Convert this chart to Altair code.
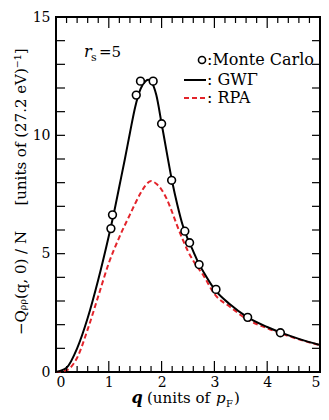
import altair as alt
import pandas as pd

# ---- data ----
q_gw = [0, 0.2, 0.4, 0.6, 0.8, 1.0, 1.1, 1.2, 1.3, 1.4, 1.5, 1.6, 1.7, 1.75, 1.8, 1.9, 2.0, 2.1, 2.2, 2.3, 2.4, 2.5, 2.6, 2.7, 2.8, 3.0, 3.3, 3.6, 4.0, 4.3, 4.6, 5.0]
y_gw = [0, 0.18, 1.0, 2.28, 3.9, 5.75, 6.75, 7.85, 8.95, 10.1, 11.2, 11.95, 12.3, 12.35, 12.28, 11.7, 10.5, 9.25, 8.05, 7.05, 6.2, 5.6, 5.1, 4.6, 4.2, 3.5, 2.85, 2.35, 1.9, 1.63, 1.4, 1.14]

q_rpa = [0, 0.2, 0.4, 0.6, 0.8, 1.0, 1.2, 1.4, 1.6, 1.7, 1.8, 1.9, 2.0, 2.1, 2.2, 2.3, 2.4, 2.5, 2.6, 2.8, 3.0, 3.3, 3.6, 4.0, 4.3, 4.6, 5.0]
y_rpa = [0, 0.08, 0.6, 1.8, 3.2, 4.6, 5.7, 6.65, 7.55, 7.9, 8.07, 7.95, 7.7, 7.3, 6.75, 6.15, 5.6, 5.1, 4.7, 4.05, 3.3, 2.75, 2.25, 1.85, 1.6, 1.38, 1.13]

q_mc = [1.04, 1.07, 1.52, 1.60, 1.84, 2.00, 2.19, 2.44, 2.53, 2.71, 3.03, 3.63, 4.25]
y_mc = [6.06, 6.64, 11.70, 12.29, 12.29, 10.49, 8.10, 5.95, 5.46, 4.54, 3.49, 2.31, 1.66]

x_labels = [0, 1, 2, 3, 4, 5]
y_labels = [0, 5, 10, 15]
x_major_ticks = [1, 2, 3, 4]
x_minor_ticks = [round(i * 0.2, 1) for i in range(1, 25) if i % 5 != 0]
y_ticks = list(range(1, 15))

W, H = 264, 355
FONT = "DejaVu Serif"
RED = "#e3242b"

xs = alt.Scale(domain=[0, 5], nice=False, zero=False)
ys = alt.Scale(domain=[0, 15], nice=False, zero=False)
AX = alt.Axis(values=x_labels, ticks=False, domain=False, grid=False, labelFont=FONT,
              labelFontSize=14, labelColor="black", labelPadding=3, title=None, format="d")
AY = alt.Axis(values=y_labels, ticks=False, domain=False, grid=False, labelFont=FONT,
              labelFontSize=14, labelColor="black", labelPadding=6, title=None, format="d")
X = alt.X("q:Q", scale=xs, axis=AX)
Y = alt.Y("v:Q", scale=ys, axis=AY)

gw_df = pd.DataFrame({"q": q_gw, "v": y_gw})
rpa_df = pd.DataFrame({"q": q_rpa, "v": y_rpa})
mc_df = pd.DataFrame({"q": q_mc, "v": y_mc})

gw = alt.Chart(gw_df).mark_line(color="black", strokeWidth=2, interpolate="monotone").encode(x=X, y=Y)
rpa = alt.Chart(rpa_df).mark_line(color=RED, strokeWidth=2, strokeDash=[5, 3],
                                  interpolate="monotone").encode(x=X, y=Y)
mc = alt.Chart(mc_df).mark_point(shape="circle", size=60, filled=True, fill="white",
                                 stroke="black", strokeWidth=1.6, opacity=1).encode(x=X, y=Y)


def xticks(vals, top, length):
    d = pd.DataFrame({"q": vals})
    y0, y1 = (0, length) if top else (H, H - length)
    return alt.Chart(d).mark_rule(color="black", strokeWidth=1.2).encode(
        x=X, y=alt.value(y0), y2=alt.value(y1))


def yticks(vals, right, length):
    d = pd.DataFrame({"v": vals})
    x0, x1 = (W, W - length) if right else (0, length)
    return alt.Chart(d).mark_rule(color="black", strokeWidth=1.2).encode(
        y=Y, x=alt.value(x0), x2=alt.value(x1))


def txt(label, x, y, size=14, style="normal", weight="normal", angle=0, align="left", baseline="alphabetic", color="black"):
    d = pd.DataFrame({"label": [label]})
    return alt.Chart(d).mark_text(font=FONT, fontSize=size, fontStyle=style, fontWeight=weight,
                                  angle=angle, align=align, baseline=baseline, color=color).encode(
        x=alt.value(x), y=alt.value(y), text="label:N")


def hline(x0, x1, y, color, dash=None):
    d = pd.DataFrame({"k": [0]})
    kw = dict(color=color, strokeWidth=2)
    if dash:
        kw["strokeDash"] = dash
    return alt.Chart(d).mark_rule(**kw).encode(x=alt.value(x0), x2=alt.value(x1), y=alt.value(y))


legend_pt = alt.Chart(pd.DataFrame({"k": [0]})).mark_point(
    shape="circle", size=50, filled=True, fill="white", stroke="black", strokeWidth=1.6, opacity=1
).encode(x=alt.value(146), y=alt.value(43))

layers = [
    rpa, gw, mc,
    xticks(x_minor_ticks, False, 6), xticks(x_minor_ticks, True, 6),
    xticks(x_major_ticks, False, 11), xticks(x_major_ticks, True, 11),
    yticks(y_ticks, False, 9), yticks(y_ticks, True, 8),
    legend_pt,
    txt(":Monte Carlo", 151, 48, 16),
    hline(128, 150, 63, "black"),
    txt(": GWΓ", 151, 68, 16),
    hline(128, 150, 81, RED, [5, 3]),
    txt(": RPA", 151, 86, 16),
    txt("r", 28, 40, 16, style="italic"),
    txt("s", 35, 44, 11),
    txt("=5", 43, 40, 15),
    txt("−Qᵨᵨ(q, 0) / N", -35, 266, 15, angle=270, align="center", baseline="middle"),
    txt("[units of (27.2 eV)⁻¹]", -35, 110, 15, angle=270, align="center", baseline="middle"),
    txt("q", 81, 386, 16, style="italic", weight="bold", align="center"),
    txt("(units of", 91, 386, 15),
    txt("p", 160, 386, 15, style="italic"),
    txt("F", 170, 390, 10),
    txt(")", 178, 386, 15),
]

chart = alt.layer(*layers).properties(
    width=W, height=H,
    autosize=alt.AutoSizeParams(type="none"),
    padding={"left": 48, "top": 9, "right": 1, "bottom": 36},
    background="white",
).configure_view(stroke="black", strokeWidth=2)

chart.save("out.html", embed_options={"renderer": "svg", "actions": False})
